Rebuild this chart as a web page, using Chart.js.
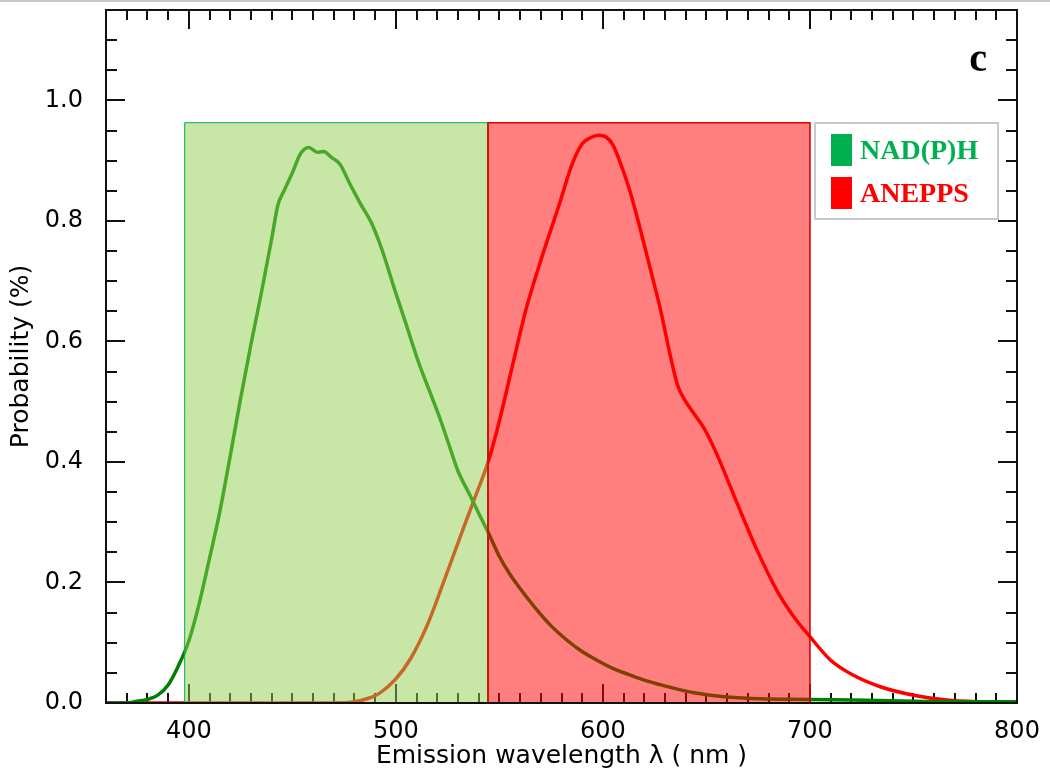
<!DOCTYPE html>
<html>
<head>
<meta charset="utf-8">
<title>Emission spectra</title>
<script src="https://cdn.jsdelivr.net/npm/chart.js@4.4.1/dist/chart.umd.min.js"></script>
<style>
  html, body { margin: 0; padding: 0; background: #fff; }
  #wrap { position: relative; width: 1050px; height: 780px; }
  #topline { position: absolute; left: 0; top: 0; width: 1050px; height: 2px; background: #c6c6c6; }
</style>
</head>
<body>
<div id="wrap">
  <canvas id="spectraChart"></canvas>
  <div id="topline"></div>
</div>
<script>
// NAD(P)H emission spectrum
const nadhWavelength = [360, 370, 375, 380, 385, 390, 395, 400, 405, 410, 415, 420, 425, 430, 435, 440, 443, 446, 450, 454, 458, 462, 465, 469, 473, 478, 483, 488, 493, 500, 505, 511, 516, 521, 526, 530, 535, 540, 545, 550, 555, 560, 568, 575, 580, 588, 595, 605, 612, 620, 628, 636, 644, 652, 660, 676, 700, 720, 750, 780, 800];
const nadhValue = [0, 0, 0.003, 0.006, 0.013, 0.03, 0.062, 0.103, 0.165, 0.24, 0.318, 0.41, 0.505, 0.595, 0.68, 0.77, 0.826, 0.85, 0.88, 0.912, 0.922, 0.914, 0.915, 0.905, 0.894, 0.86, 0.828, 0.798, 0.755, 0.68, 0.628, 0.565, 0.52, 0.475, 0.425, 0.385, 0.35, 0.315, 0.28, 0.243, 0.214, 0.19, 0.155, 0.128, 0.112, 0.09, 0.075, 0.057, 0.048, 0.038, 0.03, 0.023, 0.017, 0.013, 0.01, 0.007, 0.006, 0.005, 0.003, 0.002, 0.002];

// ANEPPS emission spectrum
const aneppsWavelength = [360, 400, 440, 470, 480, 486, 492, 500, 507, 515, 523, 531, 537, 545, 550, 557, 563, 571, 579, 585, 590, 594, 598, 602, 605, 608, 613, 618, 623, 628, 632, 636, 639, 644, 649, 655, 665, 674, 684, 692, 700, 710, 721, 734, 750, 766, 782, 800];
const aneppsValue = [0, 0, 0, 0, 0.002, 0.007, 0.016, 0.04, 0.073, 0.128, 0.2, 0.275, 0.33, 0.405, 0.468, 0.57, 0.655, 0.745, 0.828, 0.893, 0.928, 0.938, 0.942, 0.938, 0.925, 0.9, 0.85, 0.787, 0.719, 0.65, 0.585, 0.528, 0.506, 0.48, 0.455, 0.413, 0.33, 0.257, 0.187, 0.144, 0.11, 0.071, 0.046, 0.027, 0.013, 0.005, 0.002, 0.001];

// detection bands (nm) and their height
const bandNames = ['NAD(P)H', 'ANEPPS'];
const bandStart = [398, 544.5];
const bandEnd = [544.5, 700];
const bandTop = 0.963;

// axes
const xMin = 360, xMax = 800, xMinorStep = 10, xMajorStep = 100;
const yMin = 0, yMax = 1.15, yMinorStep = 0.05, yMajorStep = 0.2;
const panelLabel = 'c';

const toPoints = (xs, ys) => xs.map((x, i) => ({x: x, y: ys[i]}));
const bandPoints = i => [
    {x: bandStart[i], y: 0}, {x: bandStart[i], y: bandTop},
    {x: bandEnd[i], y: bandTop}, {x: bandEnd[i], y: 0}
];
const isMultiple = (v, step) => Math.abs(v / step - Math.round(v / step)) < 1e-6;

const swatchColors = ['#00b050', '#ff0000'];

const frameTicks = {
    id: 'frameTicks',
    beforeDatasetsDraw(chart) {
        const {ctx, chartArea: a, scales: {x, y}} = chart;
        ctx.save();
        ctx.strokeStyle = '#111';
        ctx.lineWidth = 2;
        ctx.beginPath();
        x.ticks.forEach(t => {
            if (t.value <= x.min || t.value >= x.max) return;
            const px = Math.round(x.getPixelForValue(t.value));
            const len = isMultiple(t.value, xMajorStep) ? 19 : 10;
            ctx.moveTo(px, a.bottom); ctx.lineTo(px, a.bottom - len);
            ctx.moveTo(px, a.top); ctx.lineTo(px, a.top + len);
        });
        y.ticks.forEach(t => {
            if (t.value <= y.min || t.value >= y.max - 1e-9) return;
            const py = Math.round(y.getPixelForValue(t.value));
            const len = isMultiple(t.value, yMajorStep) ? 19 : 11;
            ctx.moveTo(a.left, py); ctx.lineTo(a.left + len, py);
            ctx.moveTo(a.right, py); ctx.lineTo(a.right - len, py);
        });
        ctx.stroke();
        ctx.restore();
    },
    afterDatasetsDraw(chart) {
        const {ctx, chartArea: a} = chart;
        ctx.save();
        ctx.strokeStyle = '#111';
        ctx.lineWidth = 2;
        ctx.strokeRect(a.left, a.top, a.right - a.left, a.bottom - a.top);
        ctx.restore();
    },
    afterDraw(chart) {
        const {ctx, chartArea: a} = chart;
        ctx.save();
        // panel letter
        ctx.font = 'bold 40px "Liberation Serif", serif';
        ctx.fillStyle = '#000';
        ctx.textAlign = 'right';
        ctx.textBaseline = 'alphabetic';
        ctx.fillText(panelLabel, a.right - 30, a.top + 61);
        // legend box
        const bx = a.right - 202, by = a.top + 113;
        ctx.fillStyle = '#fff';
        ctx.fillRect(bx, by, 183, 96);
        ctx.strokeStyle = '#c8c8d2';
        ctx.lineWidth = 2;
        ctx.strokeRect(bx, by, 183, 96);
        ctx.font = 'bold 28px "Liberation Serif", serif';
        ctx.textAlign = 'left';
        bandNames.forEach((name, i) => {
            const rowTop = by + 11 + i * 43;
            ctx.fillStyle = swatchColors[i];
            ctx.fillRect(bx + 16, rowTop, 21, 32);
            ctx.fillText(name, bx + 45, rowTop + 25);
        });
        ctx.restore();
    }
};

const ctx = document.getElementById('spectraChart').getContext('2d');
new Chart(ctx, {
    type: 'line',
    data: {
        datasets: [
            {
                label: bandNames[1] + ' band',
                data: bandPoints(1),
                borderColor: '#e00000',
                borderWidth: 1.6,
                backgroundColor: 'rgba(255,0,0,0.5)',
                fill: 'origin',
                pointRadius: 0,
                tension: 0
            },
            {
                label: bandNames[0] + ' band',
                data: bandPoints(0),
                borderColor: '#00b050',
                borderWidth: 1,
                backgroundColor: 'rgba(146,208,80,0.5)',
                fill: 'origin',
                pointRadius: 0,
                tension: 0
            },
            {
                label: bandNames[0],
                data: toPoints(nadhWavelength, nadhValue),
                borderColor: 'rgb(0,128,0)',
                borderWidth: 3.5,
                fill: false,
                pointRadius: 0,
                cubicInterpolationMode: 'monotone'
            },
            {
                label: bandNames[1],
                data: toPoints(aneppsWavelength, aneppsValue),
                borderColor: 'rgb(255,0,0)',
                borderWidth: 3.5,
                fill: false,
                pointRadius: 0,
                cubicInterpolationMode: 'monotone'
            }
        ]
    },
    options: {
        responsive: true,
        maintainAspectRatio: false,
        animation: false,
        layout: {padding: {left: 0, right: 33, top: 10, bottom: 0}},
        plugins: {
            legend: {display: false},
            tooltip: {enabled: false},
            filler: {propagate: false}
        },
        scales: {
            x: {
                type: 'linear',
                min: xMin,
                max: xMax,
                afterFit: s => { s.height = 77; s.paddingLeft = 0; s.paddingRight = 0; },
                grid: {display: false},
                border: {display: false},
                ticks: {
                    stepSize: xMinorStep,
                    autoSkip: false,
                    maxRotation: 0,
                    padding: 6,
                    color: '#000',
                    font: {family: '"DejaVu Sans", sans-serif', size: 24},
                    callback: v => isMultiple(v, xMajorStep) ? String(v) : ''
                },
                title: {
                    display: true,
                    text: 'Emission wavelength λ ( nm )',
                    color: '#000',
                    font: {family: '"DejaVu Sans", sans-serif', size: 25},
                    padding: {top: 0, bottom: 9}
                }
            },
            y: {
                min: yMin,
                max: yMax,
                afterFit: s => { s.width = 106; s.paddingTop = 0; s.paddingBottom = 0; },
                grid: {display: false},
                border: {display: false},
                ticks: {
                    stepSize: yMinorStep,
                    autoSkip: false,
                    padding: 15,
                    color: '#000',
                    font: {family: '"DejaVu Sans", sans-serif', size: 24},
                    callback: v => isMultiple(v, yMajorStep) ? v.toFixed(1) : ''
                },
                title: {
                    display: true,
                    text: 'Probability (%)',
                    color: '#000',
                    font: {family: '"DejaVu Sans", sans-serif', size: 25},
                    padding: {top: 6, bottom: 0}
                }
            }
        }
    },
    plugins: [frameTicks]
});
</script>
</body>
</html>
